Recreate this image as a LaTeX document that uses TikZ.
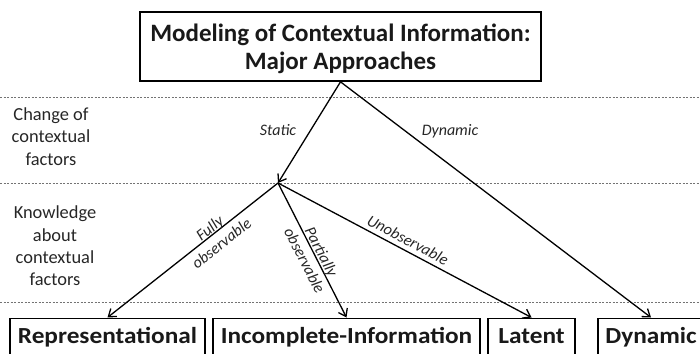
\documentclass[tikz,border=0pt]{standalone}
\usepackage{fontspec}
\usepackage{graphicx}
\setmainfont{Carlito}
\usetikzlibrary{arrows.meta}
\newcommand{\widetext}[1]{\scalebox{1.1}[1]{#1}}
\begin{document}
\begin{tikzpicture}[x=1pt,y=-1pt,
  box/.style={draw=black,line width=1.7pt,inner sep=0pt,text=black!90},
  bottombox/.style={box,anchor=north,minimum height=40pt,text height=16pt,text depth=5pt,font=\bfseries\fontsize{23}{27}\selectfont},
  sep/.style={draw=black!55,line width=0.9pt,dash pattern=on 2pt off 1.5pt},
  conn/.style={draw=black,line width=1.3pt,-{Straight Barb[length=7pt,width=10pt,line width=1.3pt]}},
  side/.style={align=center,font=\fontsize{18.4}{22.3}\selectfont,text=black!85},
  elab/.style={align=center,font=\itshape\fontsize{16}{19}\selectfont,text=black!85,inner sep=0pt}]
\clip (0,0) rectangle (700,353);
\path[use as bounding box] (0,0) rectangle (700,353);
% separators
\draw[sep] (0,97) -- (700,97);
\draw[sep] (0,183) -- (700,183);
\draw[sep] (0,302) -- (700,302);
% top box
\node[box,minimum width=401pt,minimum height=69pt,align=center,
  font=\bfseries\fontsize{25}{28}\selectfont] (top) at (340.5,46.5)
  {\rule{0pt}{21.5pt}Modeling of Contextual Information:\\Major Approaches};
% bottom boxes
\node[bottombox,minimum width=195pt] (rep) at (107.5,317.5) {\widetext{Representational}};
\node[bottombox,minimum width=267pt] (inc) at (346.5,317.5) {\widetext{Incomplete-Information}};
\node[bottombox,minimum width=87pt] (lat) at (531.5,317.5) {\widetext{Latent}};
\node[bottombox,minimum width=106pt] (dyn) at (651,317.5) {\widetext{Dynamic}};
% side labels
\node[side] (s1) at (51,136.5) {Change of\\contextual\\factors};
\node[side] (s2) at (55,246) {Knowledge\\about\\contextual\\factors};
% branch point
\coordinate (mid) at (278,183);
% connectors
\draw[conn] (top.south) -- (mid);
\draw[conn] (top.south) -- (dyn.north);
\draw[conn] (mid) -- (rep.north);
\draw[conn] (mid) -- (inc.north);
\draw[conn] (mid) -- (lat.north);
% connector labels
\node[elab] (l1) at (278,130) {Static};
\node[elab] (l2) at (450,131) {Dynamic};
\node[elab,rotate=38.4] (l3) at (215.5,235.6) {Fully\\observable};
\node[elab,rotate=-62.6] (l4) at (313.2,256.2) {Partially\\observable};
\node[elab,rotate=-27.8] (l5) at (408,240) {Unobservable};
\end{tikzpicture}
\end{document}
